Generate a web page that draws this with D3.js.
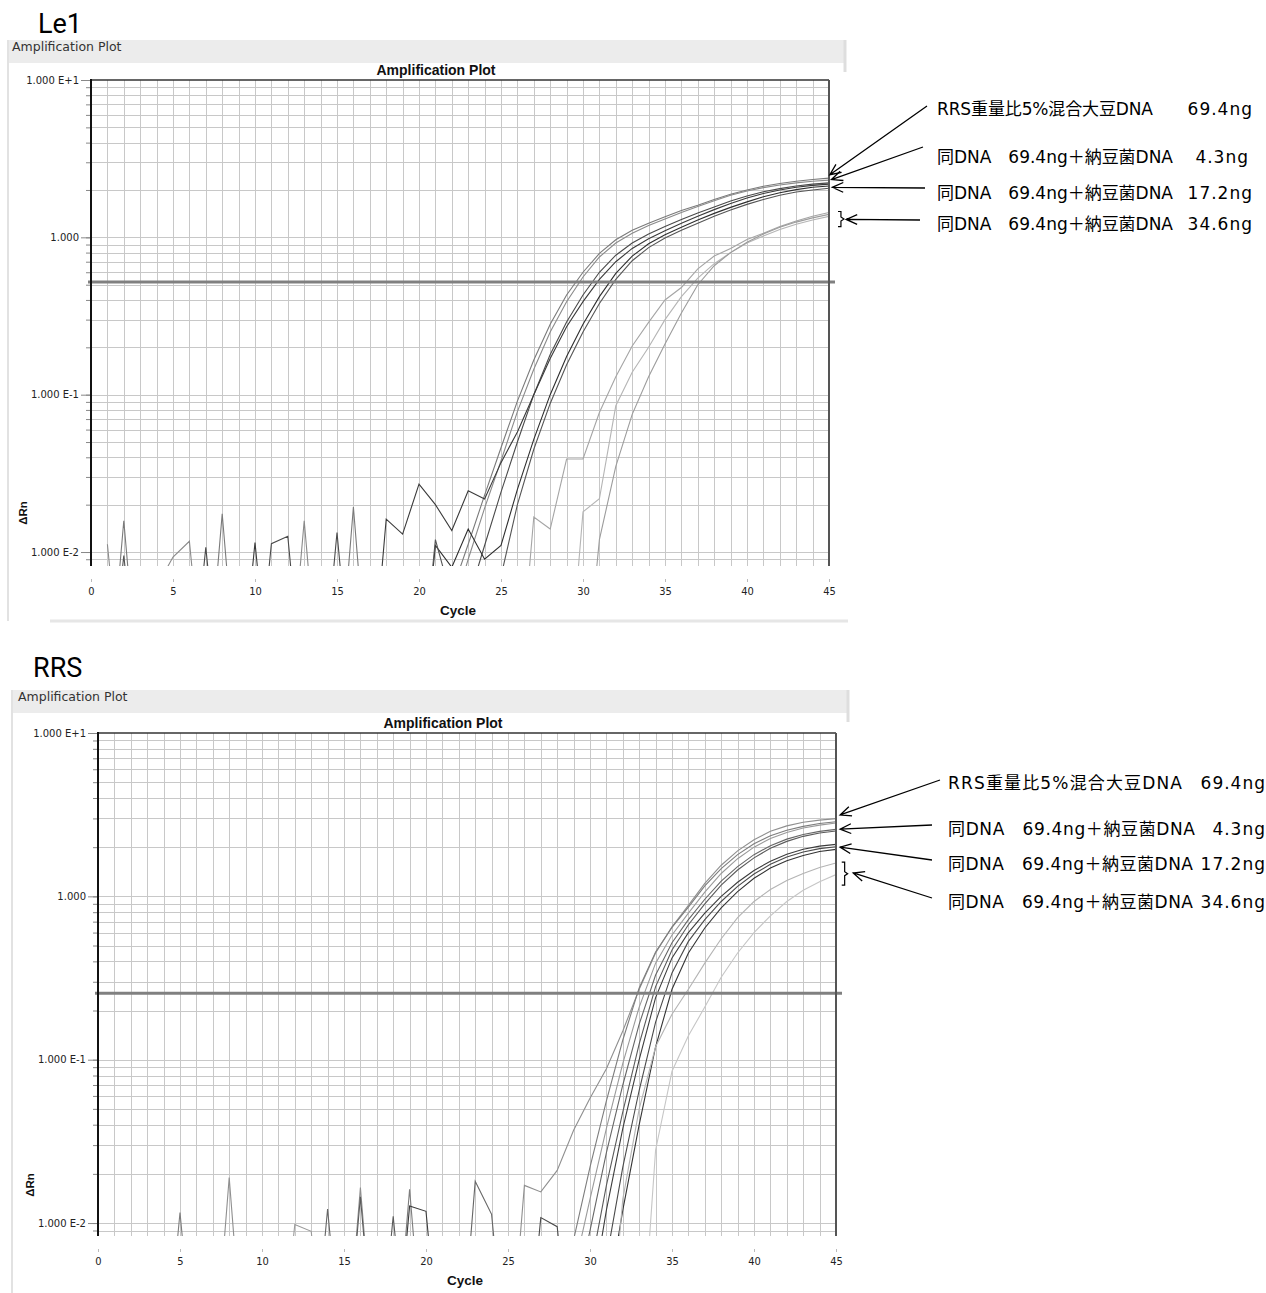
<!DOCTYPE html>
<html>
<head>
<meta charset="utf-8">
<title>Amplification Plot - Le1 / RRS</title>
<script src="https://d3js.org/d3.v7.min.js"></script>
<style>
  body { margin: 0; background: #fff; }
  svg { display: block; }
</style>
</head>
<body>
<svg width="1266" height="1293"></svg>
<script>
// ---- shared axis data ----
const cycles = d3.range(1, 46);
const xTickValues = [0, 5, 10, 15, 20, 25, 30, 35, 40, 45];
const yMajorValues = [10, 1, 0.1, 0.01];
const yMajorLabels = ["1.000 E+1", "1.000", "1.000 E-1", "1.000 E-2"];

// ---- Le1 (ΔRn per cycle 1..45) ----
const le1Threshold = 0.52;
const le1_69a = [0.001,0.0158,0.001,0.001,0.001,0.001,0.001,0.0175,0.001,0.001,
  0.001,0.001,0.001,0.001,0.001,0.0193,0.001,0.001,0.001,0.001,
  0.0028,0.0056,0.0112,0.023,0.046,0.091,0.166,0.28,0.43,0.60,
  0.79,0.966,1.11,1.23,1.35,1.48,1.60,1.74,1.88,2.00,
  2.11,2.20,2.27,2.33,2.38];
const le1_69b = [0.0112,0.001,0.001,0.006,0.0093,0.0117,0.001,0.001,0.001,0.001,
  0.001,0.001,0.0158,0.001,0.001,0.001,0.001,0.001,0.001,0.001,
  0.001,0.004,0.009,0.019,0.038,0.078,0.145,0.25,0.39,0.56,
  0.75,0.92,1.06,1.19,1.31,1.44,1.57,1.71,1.85,1.97,
  2.07,2.15,2.22,2.27,2.31];
const le1_43a = [0.001,0.001,0.001,0.001,0.001,0.001,0.0107,0.001,0.001,0.001,
  0.0113,0.0126,0.001,0.001,0.0133,0.001,0.001,0.001,0.001,0.001,
  0.001,0.002,0.005,0.011,0.024,0.05,0.10,0.18,0.29,0.43,
  0.60,0.77,0.92,1.05,1.17,1.30,1.43,1.56,1.70,1.83,
  1.95,2.04,2.12,2.18,2.22];
const le1_43b = [0.001,0.001,0.001,0.001,0.001,0.001,0.001,0.001,0.001,0.0115,
  0.001,0.001,0.001,0.001,0.001,0.001,0.001,0.0162,0.013,0.027,
  0.020,0.0137,0.0245,0.0217,0.037,0.058,0.10,0.17,0.27,0.39,
  0.54,0.70,0.85,0.98,1.10,1.23,1.36,1.50,1.64,1.78,
  1.90,2.00,2.08,2.14,2.18];
const le1_172a = [0.001,0.001,0.001,0.001,0.001,0.001,0.001,0.001,0.001,0.001,
  0.001,0.001,0.001,0.001,0.001,0.001,0.001,0.001,0.001,0.001,
  0.011,0.008,0.014,0.009,0.011,0.025,0.052,0.10,0.175,0.28,
  0.42,0.59,0.76,0.91,1.04,1.16,1.29,1.42,1.55,1.68,
  1.81,1.92,2.01,2.08,2.12];
const le1_172b = [0.001,0.0095,0.001,0.001,0.001,0.001,0.001,0.001,0.001,0.001,
  0.001,0.001,0.001,0.001,0.001,0.001,0.001,0.001,0.001,0.001,
  0.012,0.005,0.008,0.002,0.007,0.02,0.045,0.088,0.155,0.25,
  0.38,0.54,0.71,0.86,0.99,1.11,1.23,1.36,1.49,1.62,
  1.74,1.85,1.94,2.00,2.05];
const le1_346a = [0.001,0.001,0.001,0.001,0.001,0.001,0.001,0.001,0.001,0.001,
  0.001,0.001,0.001,0.001,0.001,0.001,0.001,0.001,0.001,0.001,
  0.001,0.001,0.001,0.001,0.001,0.001,0.0167,0.014,0.039,0.039,
  0.077,0.13,0.204,0.288,0.40,0.48,0.63,0.76,0.85,0.97,
  1.06,1.17,1.27,1.36,1.44];
const le1_346b = [0.001,0.001,0.001,0.001,0.001,0.001,0.001,0.001,0.001,0.001,
  0.001,0.001,0.001,0.001,0.001,0.001,0.001,0.001,0.001,0.001,
  0.001,0.001,0.001,0.001,0.001,0.001,0.001,0.001,0.001,0.018,
  0.0218,0.085,0.139,0.2,0.30,0.42,0.55,0.68,0.80,0.92,
  1.02,1.12,1.21,1.29,1.36];
const le1_346c = [0.001,0.001,0.001,0.001,0.001,0.001,0.001,0.001,0.001,0.001,
  0.001,0.001,0.001,0.001,0.001,0.001,0.001,0.001,0.001,0.001,
  0.001,0.001,0.001,0.001,0.001,0.001,0.001,0.001,0.001,0.001,
  0.012,0.035,0.075,0.13,0.21,0.33,0.50,0.66,0.80,0.93,
  1.05,1.16,1.25,1.33,1.40];
const le1Series = [le1_69a, le1_69b, le1_43a, le1_43b, le1_172a, le1_172b, le1_346a, le1_346b, le1_346c];
const le1Colors = ["#7a7a7a", "#8a8a8a", "#4a4a4a", "#3a3a3a", "#2e2e2e", "#555555", "#a5a5a5", "#b5b5b5", "#9c9c9c"];

// ---- RRS (ΔRn per cycle 1..45) ----
const rrsThreshold = 0.255;
const rrs_69a = [0.001,0.001,0.001,0.001,0.001,0.001,0.001,0.019,0.001,0.001,
  0.001,0.001,0.001,0.001,0.001,0.0165,0.001,0.001,0.001,0.001,
  0.001,0.001,0.001,0.001,0.001,0.017,0.0155,0.021,0.037,0.058,
  0.088,0.15,0.27,0.45,0.65,0.88,1.2,1.55,1.9,2.22,
  2.5,2.7,2.84,2.93,2.99];
const rrs_69b = [0.001,0.001,0.001,0.001,0.0116,0.001,0.001,0.001,0.001,0.001,
  0.001,0.001,0.001,0.001,0.001,0.001,0.001,0.001,0.0161,0.001,
  0.001,0.001,0.001,0.001,0.001,0.001,0.001,0.003,0.0079,0.022,
  0.056,0.132,0.275,0.457,0.646,0.86,1.16,1.48,1.80,2.1,
  2.35,2.54,2.68,2.79,2.86];
const rrs_69c = [0.001,0.001,0.001,0.001,0.001,0.001,0.001,0.001,0.001,0.001,
  0.001,0.0098,0.0089,0.001,0.001,0.001,0.001,0.001,0.001,0.001,
  0.001,0.001,0.001,0.001,0.001,0.001,0.001,0.001,0.005,0.014,
  0.038,0.095,0.21,0.39,0.58,0.79,1.06,1.38,1.70,2.0,
  2.26,2.46,2.62,2.73,2.81];
const rrs_43a = [0.001,0.001,0.001,0.001,0.001,0.001,0.001,0.001,0.001,0.001,
  0.001,0.001,0.001,0.0122,0.001,0.001,0.001,0.001,0.001,0.001,
  0.001,0.001,0.018,0.0113,0.001,0.001,0.001,0.001,0.003,0.009,
  0.027,0.07,0.165,0.33,0.52,0.72,0.96,1.24,1.52,1.80,
  2.04,2.24,2.39,2.50,2.57];
const rrs_43b = [0.001,0.001,0.001,0.001,0.001,0.001,0.001,0.001,0.001,0.001,
  0.001,0.001,0.001,0.001,0.001,0.0145,0.001,0.011,0.001,0.001,
  0.001,0.001,0.001,0.001,0.001,0.001,0.001,0.001,0.001,0.005,
  0.017,0.048,0.125,0.28,0.47,0.67,0.9,1.17,1.45,1.72,
  1.97,2.17,2.33,2.44,2.51];
const rrs_172a = [0.001,0.001,0.001,0.001,0.001,0.001,0.001,0.001,0.001,0.001,
  0.001,0.001,0.001,0.001,0.001,0.001,0.001,0.001,0.0127,0.0118,
  0.001,0.001,0.001,0.001,0.001,0.001,0.001,0.001,0.001,0.003,
  0.012,0.038,0.1,0.24,0.42,0.6,0.79,1.0,1.22,1.44,
  1.64,1.81,1.94,2.03,2.08];
const rrs_172b = [0.001,0.001,0.001,0.001,0.001,0.001,0.001,0.001,0.001,0.001,
  0.001,0.001,0.001,0.001,0.001,0.001,0.001,0.001,0.001,0.001,
  0.001,0.001,0.001,0.001,0.001,0.001,0.0108,0.0095,0.001,0.001,
  0.006,0.022,0.065,0.17,0.34,0.53,0.72,0.93,1.15,1.37,
  1.57,1.74,1.87,1.96,2.01];
const rrs_172c = [0.001,0.001,0.001,0.001,0.001,0.001,0.001,0.001,0.001,0.001,
  0.001,0.001,0.001,0.001,0.001,0.001,0.001,0.001,0.001,0.001,
  0.001,0.001,0.001,0.001,0.001,0.001,0.001,0.001,0.001,0.001,
  0.003,0.012,0.04,0.12,0.27,0.45,0.64,0.85,1.07,1.29,
  1.49,1.65,1.78,1.88,1.94];
const rrs_346a = [0.001,0.001,0.001,0.001,0.001,0.001,0.001,0.001,0.001,0.001,
  0.001,0.001,0.001,0.001,0.001,0.001,0.001,0.001,0.001,0.001,
  0.001,0.001,0.001,0.001,0.001,0.001,0.001,0.001,0.001,0.001,
  0.001,0.014,0.05,0.12,0.19,0.27,0.39,0.55,0.74,0.93,
  1.10,1.25,1.38,1.50,1.60];
const rrs_346b = [0.001,0.001,0.001,0.001,0.001,0.001,0.001,0.001,0.001,0.001,
  0.001,0.001,0.001,0.001,0.001,0.001,0.001,0.001,0.001,0.001,
  0.001,0.001,0.001,0.001,0.001,0.001,0.001,0.001,0.001,0.001,
  0.001,0.001,0.001,0.028,0.085,0.14,0.21,0.32,0.45,0.6,
  0.76,0.93,1.09,1.23,1.36];
const rrsSeries = [rrs_69a, rrs_69b, rrs_69c, rrs_43a, rrs_43b, rrs_172a, rrs_172b, rrs_172c, rrs_346a, rrs_346b];
const rrsColors = ["#8f8f8f", "#7d7d7d", "#9a9a9a", "#666666", "#5a5a5a", "#3c3c3c", "#4a4a4a", "#333333", "#b4b4b4", "#c6c6c6"];

// ---- annotation texts ----
const legendMain = ["RRS重量比5%混合大豆DNA", "同DNA　69.4ng＋納豆菌DNA", "同DNA　69.4ng＋納豆菌DNA", "同DNA　69.4ng＋納豆菌DNA"];
const legendAmount = ["69.4ng", "4.3ng", "17.2ng", "34.6ng"];

const svg = d3.select("svg");
const UI = "'DejaVu Sans', 'Liberation Sans', sans-serif";
const SANS = "'Liberation Sans', Arial, sans-serif";
const JP = "'DejaVu Sans', 'Noto Sans CJK JP', sans-serif";

function arrow(g, tx, ty, hx, hy) {
  const a = Math.atan2(ty - hy, tx - hx), len = 12, sp = 0.42;
  const p1 = [hx + len * Math.cos(a + sp), hy + len * Math.sin(a + sp)];
  const p2 = [hx + len * Math.cos(a - sp), hy + len * Math.sin(a - sp)];
  g.append("path")
    .attr("d", `M${tx},${ty}L${hx},${hy}M${p1[0]},${p1[1]}L${hx},${hy}L${p2[0]},${p2[1]}`)
    .attr("fill", "none").attr("stroke", "#000").attr("stroke-width", 1.3);
}

function drawPanel(cfg) {
  const g = svg.append("g");

  // big label (Le1 / RRS)
  g.append("text").attr("x", cfg.labelX).attr("y", cfg.labelY)
    .attr("font-family", "Roboto, sans-serif").attr("font-size", 27)
    .attr("fill", "#000").text(cfg.label);

  // panel chrome
  g.append("rect").attr("x", cfg.px).attr("y", cfg.py).attr("width", cfg.pw).attr("height", 23)
    .attr("fill", "#ececec");
  g.append("line").attr("x1", cfg.px + 1).attr("x2", cfg.px + 1).attr("y1", cfg.py).attr("y2", cfg.pBottom)
    .attr("stroke", "#e2e2e2").attr("stroke-width", 2);
  g.append("line").attr("x1", cfg.px + cfg.pw).attr("x2", cfg.px + cfg.pw).attr("y1", cfg.py).attr("y2", cfg.py + 32)
    .attr("stroke", "#dedede").attr("stroke-width", 3);
  if (cfg.bottomLine) {
    g.append("line").attr("x1", 50).attr("x2", cfg.px + cfg.pw + 3).attr("y1", cfg.pBottom).attr("y2", cfg.pBottom)
      .attr("stroke", "#e6e6e6").attr("stroke-width", 3);
  }
  g.append("text").attr("x", cfg.headerX).attr("y", cfg.py + 11)
    .attr("font-family", UI).attr("font-size", 12.5).attr("fill", "#333")
    .text("Amplification Plot");

  const x = d3.scaleLinear().domain([0, 45]).range([cfg.x0, cfg.x1]);
  const y = d3.scaleLog().domain([cfg.yMin, 10]).range([cfg.y1, cfg.y0]);

  // grid
  const grid = g.append("g").attr("stroke", "#c8c8c8").attr("stroke-width", 1);
  grid.selectAll(".vg").data(x.ticks(45).filter(d => d > 0 && d < 45)).join("line")
    .attr("x1", d => Math.round(x(d)) + 0.5).attr("x2", d => Math.round(x(d)) + 0.5)
    .attr("y1", cfg.y0).attr("y2", cfg.y1);
  grid.selectAll(".hg").data(y.ticks().filter(d => d < 10)).join("line")
    .attr("x1", cfg.x0).attr("x2", cfg.x1)
    .attr("y1", d => Math.round(y(d)) + 0.5).attr("y2", d => Math.round(y(d)) + 0.5);

  // curves
  const clipId = "clip-" + cfg.label;
  g.append("clipPath").attr("id", clipId).append("rect")
    .attr("x", cfg.x0).attr("y", cfg.y0).attr("width", cfg.x1 - cfg.x0).attr("height", cfg.y1 - cfg.y0);
  const line = d3.line().x((d, i) => x(cycles[i])).y(d => y(d));
  g.append("g").attr("clip-path", `url(#${clipId})`)
    .selectAll("path").data(cfg.series).join("path")
    .attr("d", line).attr("fill", "none")
    .attr("stroke", (d, i) => cfg.colors[i]).attr("stroke-width", 1.1);

  // threshold
  g.append("line").attr("x1", cfg.x0 - 3).attr("x2", cfg.x1 + 6)
    .attr("y1", y(cfg.threshold)).attr("y2", y(cfg.threshold))
    .attr("stroke", "#808080").attr("stroke-width", 3);

  // frame
  g.append("line").attr("x1", cfg.x0).attr("x2", cfg.x1).attr("y1", cfg.y0).attr("y2", cfg.y0)
    .attr("stroke", "#333").attr("stroke-width", 1.6);
  g.append("line").attr("x1", cfg.x1).attr("x2", cfg.x1).attr("y1", cfg.y0).attr("y2", cfg.y1)
    .attr("stroke", "#555").attr("stroke-width", 2);

  // y axis: minor and major ticks
  const minor = g.append("g").attr("transform", `translate(${cfg.x0},0)`)
    .call(d3.axisLeft(y).tickValues(y.ticks().filter(d => d < 10)).tickSize(5).tickFormat(""));
  minor.select(".domain").remove();
  minor.selectAll("line").attr("stroke", "#888");
  const major = g.append("g").attr("transform", `translate(${cfg.x0},0)`)
    .call(d3.axisLeft(y).tickValues(yMajorValues).tickSize(10).tickPadding(2)
      .tickFormat((d, i) => yMajorLabels[i]));
  major.select(".domain").remove();
  major.selectAll("line").attr("stroke", "#888");
  major.selectAll("text").attr("font-family", UI).attr("font-size", 10).attr("fill", "#222");
  g.append("line").attr("x1", cfg.x0).attr("x2", cfg.x0).attr("y1", cfg.y0 - 1).attr("y2", cfg.y1)
    .attr("stroke", "#111").attr("stroke-width", 2);

  // x axis
  const xa = g.append("g").attr("transform", `translate(0,${cfg.y1 + 13})`)
    .call(d3.axisBottom(x).tickValues(xTickValues).tickSize(3).tickPadding(5).tickFormat(d3.format("d")));
  xa.select(".domain").remove();
  xa.selectAll("line").attr("stroke", "#bbb");
  xa.selectAll("text").attr("font-family", "'Liberation Sans Narrow', 'DejaVu Sans Condensed', sans-serif")
    .attr("font-size", 11).attr("fill", "#222");

  // titles
  g.append("text").attr("x", cfg.titleX).attr("y", cfg.y0 - 5).attr("text-anchor", "middle")
    .attr("font-family", SANS).attr("font-weight", "bold").attr("font-size", 14).attr("fill", "#111")
    .text("Amplification Plot");
  g.append("text").attr("x", (cfg.x0 + cfg.x1) / 2 - 2).attr("y", cfg.y1 + 49).attr("text-anchor", "middle")
    .attr("font-family", SANS).attr("font-weight", "bold").attr("font-size", 13.5).attr("fill", "#111")
    .text("Cycle");
  g.append("text").attr("transform", `translate(${cfg.x0 - 64},${cfg.ylabelY}) rotate(-90)`)
    .attr("text-anchor", "middle")
    .attr("font-family", SANS).attr("font-weight", "bold").attr("font-size", 11.5).attr("fill", "#111")
    .text("ΔRn");

  // annotations
  const ann = g.append("g");
  cfg.notes.forEach((n, i) => {
    ann.append("text").attr("x", cfg.noteX).attr("y", n.baseline)
      .attr("font-family", JP).attr("font-size", 17).attr("fill", "#000")
      .attr("textLength", n.len).attr("lengthAdjust", "spacing")
      .text(legendMain[i]);
    ann.append("text").attr("x", n.amountX).attr("y", n.baseline).attr("text-anchor", "end")
      .attr("font-family", JP).attr("font-size", 17).attr("letter-spacing", 1).attr("fill", "#000")
      .text(legendAmount[i]);
    arrow(ann, n.tail[0], n.tail[1], x(n.tip[0]), y(n.tip[1]));
  });
  const b = cfg.bracket;
  const bx0 = x(b.c0), bx1 = x(b.c1), bt = y(b.vTop), bb = y(b.vBottom), bm = (bt + bb) / 2;
  ann.append("path")
    .attr("d", `M${bx0},${bt}L${bx1 - 2},${bt}L${bx1 - 2},${bm - 2}L${bx1 + 1},${bm}L${bx1 - 2},${bm + 2}L${bx1 - 2},${bb}L${bx0},${bb}`)
    .attr("fill", "none").attr("stroke", "#000").attr("stroke-width", 1.2);
}

drawPanel({
  label: "Le1", labelX: 38, labelY: 33,
  px: 7, py: 40, pw: 838, pBottom: 621, bottomLine: true, headerX: 12,
  x0: 91, x1: 829, y0: 80, y1: 566, yMin: 0.00815,
  titleX: 436, ylabelY: 513,
  series: le1Series, colors: le1Colors, threshold: le1Threshold,
  noteX: 937,
  notes: [
    { baseline: 115, len: 216, amountX: 1253, tail: [927, 106], tip: [45.05, 2.5] },
    { baseline: 163, len: 236, amountX: 1249, tail: [923, 147], tip: [45.15, 2.33] },
    { baseline: 199, len: 236, amountX: 1253, tail: [925, 188], tip: [45.2, 2.08] },
    { baseline: 230, len: 236, amountX: 1253, tail: [920, 220], tip: [46.05, 1.30] }
  ],
  bracket: { c0: 45.55, c1: 45.85, vTop: 1.46, vBottom: 1.17 }
});

drawPanel({
  label: "RRS", labelX: 33, labelY: 677,
  px: 11, py: 690, pw: 837, pBottom: 1293, bottomLine: false, headerX: 18,
  x0: 98, x1: 836, y0: 733, y1: 1236, yMin: 0.00833,
  titleX: 443, ylabelY: 1185,
  series: rrsSeries, colors: rrsColors, threshold: rrsThreshold,
  noteX: 948,
  notes: [
    { baseline: 789, len: 234, amountX: 1266, tail: [940, 780], tip: [45.25, 3.15] },
    { baseline: 835, len: 247, amountX: 1266, tail: [932, 825], tip: [45.25, 2.58] },
    { baseline: 870, len: 245, amountX: 1266, tail: [932, 860], tip: [45.25, 2.0] },
    { baseline: 908, len: 245, amountX: 1266, tail: [932, 898], tip: [46.05, 1.39] }
  ],
  bracket: { c0: 45.35, c1: 45.65, vTop: 1.62, vBottom: 1.17 }
});
</script>
</body>
</html>
